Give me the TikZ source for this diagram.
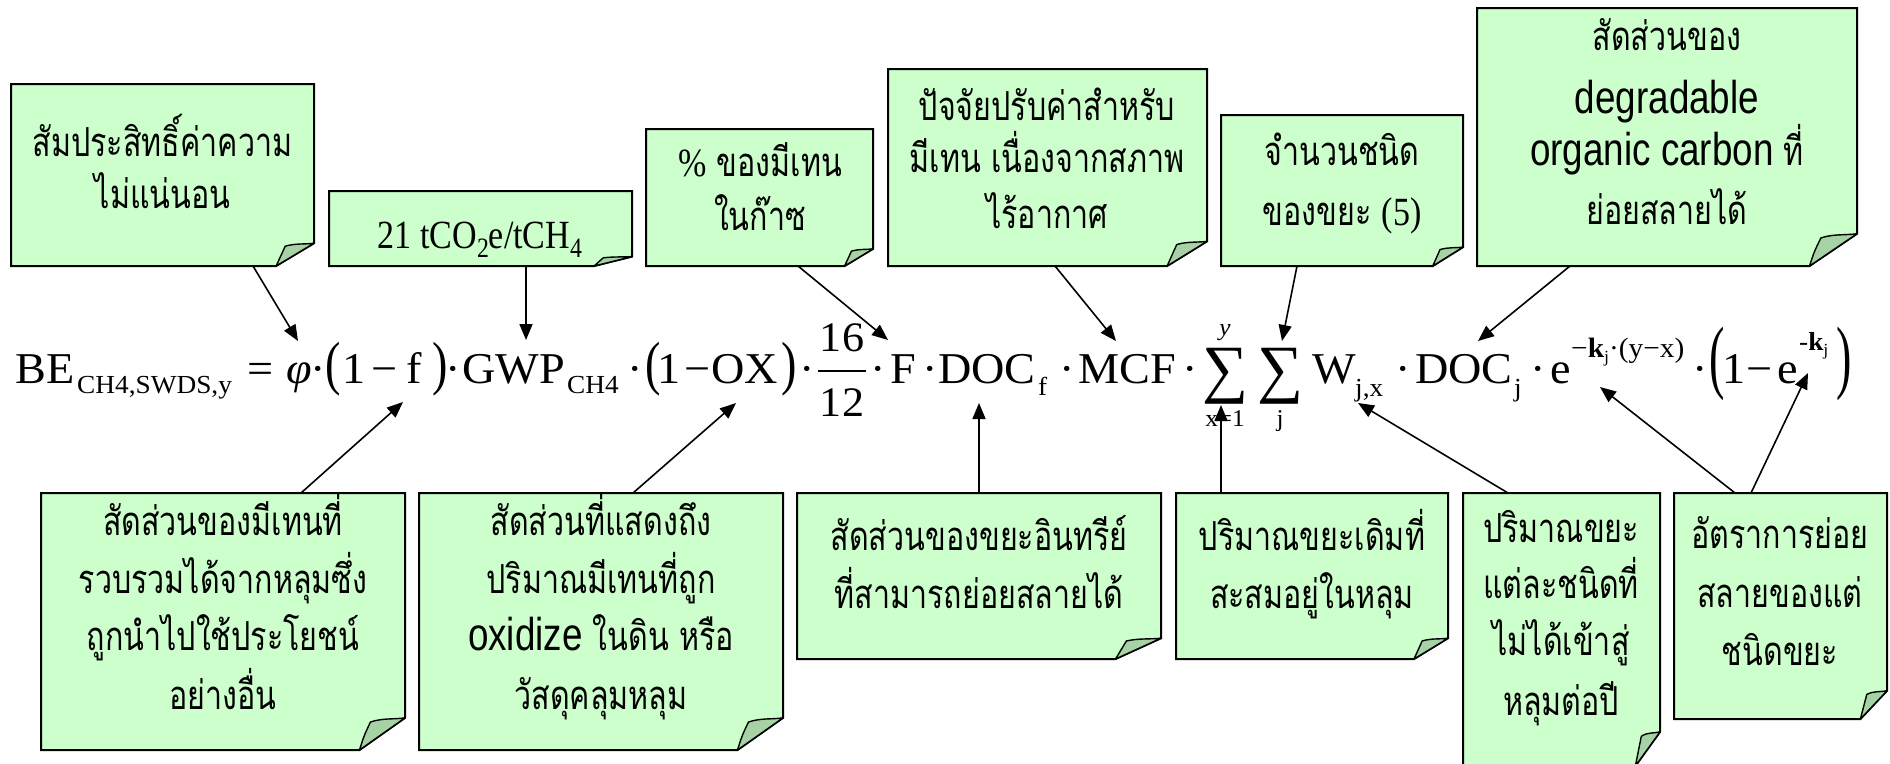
\documentclass[tikz,border=0pt]{standalone}
\usepackage{fontspec}
\setmainfont{Liberation Serif}
\newfontfamily\thaif[Script=Thai,FakeStretch=0.76]{Loma}
\newfontfamily\nserif[FakeStretch=0.85]{Liberation Serif}
\newfontfamily\nsans[FakeStretch=0.8]{Liberation Sans}
\newfontfamily\fmf[FakeStretch=1.05]{Liberation Serif}
\usetikzlibrary{arrows.meta,fit}
\definecolor{notegreen}{HTML}{CCFFCC}
\definecolor{flapgreen}{HTML}{A6D2A6}
\tikzset{
  arr/.style={-{Triangle[length=16pt,width=13pt]}, line width=1.6pt},
  tx/.style={anchor=base, inner sep=0pt, font=\thaif\fontsize{40}{48}\selectfont},
  fm/.style={anchor=base west, inner sep=0pt, font=\fmf\fontsize{44}{50}\selectfont},
  fs/.style={anchor=base west, inner sep=0pt, font=\fmf\fontsize{26}{30}\selectfont},
  fd/.style={anchor=base, inner sep=0pt, font=\fmf\fontsize{44}{50}\selectfont},
  fsm/.style={anchor=base, inner sep=0pt, font=\fmf\fontsize{24}{28}\selectfont},
}
\newcommand\notebox[5]{%
  \pgfmathsetmacro\nbw{0.125*(#4-#2)}%
  \pgfmathsetmacro\nbh{0.125*(#5-#3)}%
  \filldraw[fill=notegreen, draw=black, line width=2pt, line join=miter]
    (#2,#3) -- (#4,#3) -- (#4,{#5-\nbh}) -- ({#4-\nbw},#5) -- (#2,#5) -- cycle;
  \filldraw[fill=flapgreen, draw=black, line width=1.4pt, line join=round]
    ({#4-\nbw},#5) .. controls ({#4-0.9*\nbw},{#5-0.45*\nbh}) .. ({#4-0.76*\nbw},{#5-0.87*\nbh})
    .. controls ({#4-0.5*\nbw},{#5-1.0*\nbh}) and ({#4-0.25*\nbw},{#5-0.95*\nbh}) .. (#4,{#5-\nbh}) -- cycle;
  \node[fit={(#2,#3) (#4,#5)}, inner sep=0pt] (#1) {};
}
\newcommand\subsm[1]{\raisebox{-5pt}{\fontsize{17}{20}\selectfont #1}}
\begin{document}
\begin{tikzpicture}[x=1pt,y=-1pt]
\fill[white] (0,0) rectangle (1890,763);
\useasboundingbox (0,0) rectangle (1890,763);

% ---------- top boxes ----------
\notebox{A}{11}{84}{314}{266}
\node[tx] (A1) at (162.5,156) {สัมประสิทธิ์ค่าความ};
\node[tx] (A2) at (162.5,208) {ไม่แน่นอน};

\notebox{G}{329}{191}{632}{266}
\node[anchor=base, inner sep=0pt, font=\nserif\fontsize{40}{48}\selectfont] (G1) at (480,248)
  {21 tCO\raisebox{-9pt}{\fontsize{28}{30}\selectfont 2}e/tCH\raisebox{-9pt}{\fontsize{28}{30}\selectfont 4}};

\notebox{P}{646}{129}{873}{266}
\node[tx] (P1) at (760,176) {{\nserif\%} ของมีเทน};
\node[tx] (P2) at (760,230) {ในก๊าซ};

\notebox{M}{888}{69}{1207}{266}
\node[tx] (M1) at (1047,120) {ปัจจัยปรับค่าสำหรับ};
\node[tx] (M2) at (1047,172) {มีเทน เนื่องจากสภาพ};
\node[tx] (M3) at (1047,228) {ไร้อากาศ};

\notebox{J}{1221}{115}{1463}{266}
\node[tx] (J1) at (1342,165) {จำนวนชนิด};
\node[tx] (J2) at (1342,225) {ของขยะ {\nserif (5)}};

\notebox{D}{1477}{8}{1857}{266}
\node[tx] (D1) at (1667,50) {สัดส่วนของ};
\node[tx, font=\nsans\fontsize{46}{50}\selectfont] (D2) at (1667,113) {degradable};
\node[tx] (D3) at (1667,165) {{\nsans\fontsize{46}{50}\selectfont organic carbon} ที่};
\node[tx] (D4) at (1667,224) {ย่อยสลายได้};

% ---------- bottom boxes ----------
\notebox{B1}{41}{493}{405}{750}
\node[tx] (B1a) at (223,535) {สัดส่วนของมีเทนที่};
\node[tx] (B1b) at (223,593) {รวบรวมได้จากหลุมซึ่ง};
\node[tx] (B1c) at (223,650) {ถูกนำไปใช้ประโยชน์};
\node[tx] (B1d) at (223,709) {อย่างอื่น};

\notebox{B2}{419}{493}{783}{750}
\node[tx] (B2a) at (601,535) {สัดส่วนที่แสดงถึง};
\node[tx] (B2b) at (601,593) {ปริมาณมีเทนที่ถูก};
\node[tx] (B2c) at (601,650) {{\nsans\fontsize{46}{50}\selectfont oxidize} ในดิน หรือ};
\node[tx] (B2d) at (601,709) {วัสดุคลุมหลุม};

\notebox{B3}{797}{493}{1161}{659}
\node[tx] (B3a) at (979,550) {สัดส่วนของขยะอินทรีย์};
\node[tx] (B3b) at (979,608) {ที่สามารถย่อยสลายได้};

\notebox{B4}{1176}{493}{1448}{659}
\node[tx] (B4a) at (1312,550) {ปริมาณขยะเดิมที่};
\node[tx] (B4b) at (1312,608) {สะสมอยู่ในหลุม};

\notebox{B5}{1463}{493}{1660}{766}
\node[tx] (B5a) at (1561,542) {ปริมาณขยะ};
\node[tx] (B5b) at (1561,598) {แต่ละชนิดที่};
\node[tx] (B5c) at (1561,655) {ไม่ได้เข้าสู่};
\node[tx] (B5d) at (1561,715) {หลุมต่อปี};

\notebox{B6}{1674}{493}{1887}{719}
\node[tx] (B6a) at (1780,548) {อัตราการย่อย};
\node[tx] (B6b) at (1780,607) {สลายของแต่};
\node[tx] (B6c) at (1780,665) {ชนิดขยะ};

% ---------- formula ----------
\node[fm] (be) at (15,383) {BE};
\node[fs] (besub) at (77,393) {CH4,SWDS,y};
\node[fm] (eq) at (247,383) {=};
\node[fm] (phi) at (286,383) {\itshape φ};
\node[fd] (d1) at (318,383) {·};
\node[fm] (lp1) at (325,383) {\scalebox{1}[1.35]{(}};
\node[fm] (one1) at (342,383) {1};
\node[fm] (m1) at (371,383) {−};
\node[fm] (ff) at (406,383) {f};
\node[fm] (rp1) at (432,383) {\scalebox{1}[1.35]{)}};
\node[fd] (d2) at (453,383) {·};
\node[fm] (gwp) at (462,383) {GWP};
\node[fs] (gsub) at (567,393) {CH4};
\node[fd] (d3) at (635,383) {·};
\node[fm] (lp2) at (645,383) {\scalebox{1}[1.35]{(}};
\node[fm] (one2) at (657,383) {1};
\node[fm] (m2) at (684,383) {−};
\node[fm] (ox) at (711,383) {OX};
\node[fm] (rp2) at (781,383) {\scalebox{1}[1.35]{)}};
\node[fd] (d4) at (807,383) {·};
\node[anchor=base, inner sep=0pt, font=\fmf\fontsize{42}{46}\selectfont] (n16) at (842,351) {16};
\node[anchor=base, inner sep=0pt, font=\fmf\fontsize{42}{46}\selectfont] (n12) at (842,416) {12};
\draw[line width=2.5pt] (818,371) -- (866,371);
\node[fd] (d5) at (878,383) {·};
\node[fm] (F) at (890,383) {F};
\node[fd] (d6) at (930,383) {·};
\node[fm] (doc1) at (938,383) {DOC};
\node[fs] (fsub) at (1038,395) {f};
\node[fd] (d7) at (1067,383) {·};
\node[fm] (mcf) at (1078,383) {MCF};
\node[fd] (d8) at (1190,383) {·};
\node[anchor=north west, inner sep=0pt] (sum1) at (1202,348) {\resizebox*{46pt}{56pt}{\fmf ∑}};
\node[fsm, font=\fmf\itshape\fontsize{24}{28}\selectfont] (suy) at (1225,335) {y};
\node[fsm] (sux) at (1225,426) {x=1};
\node[anchor=north west, inner sep=0pt] (sum2) at (1257,348) {\resizebox*{46pt}{56pt}{\fmf ∑}};
\node[fsm] (suj) at (1280,426) {j};
\node[fm] (W) at (1312,383) {W};
\node[fs] (wsub) at (1355,396) {j,x};
\node[fd] (d9) at (1403,383) {·};
\node[fm] (doc2) at (1415,383) {DOC};
\node[fs] (jsub) at (1514,396) {j};
\node[fd] (d10) at (1538,383) {·};
\node[fm] (e1) at (1550,383) {e};
\node[fs, font=\fmf\fontsize{28}{30}\selectfont] (esup) at (1571,357) {−\textbf{k}\subsm{j}·(y−x)};
\node[fd] (d11) at (1700,383) {·};
\node[fm] (lp3) at (1709,383) {\scalebox{1}[1.85]{(}};
\node[fm] (one3) at (1722,383) {1};
\node[fm] (m3) at (1746,383) {−};
\node[fm] (e2) at (1777,383) {e};
\node[fs] (esup2) at (1799,350) {-\textbf{k}\subsm{j}};
\node[fm] (rp3) at (1836,383) {\scalebox{1}[1.85]{)}};

% ---------- connectors ----------
\coordinate (sA) at (253,266);   \coordinate (tA) at (298,341);
\coordinate (sG) at (526,266);   \coordinate (tG) at (526,340);
\coordinate (sP) at (798,266);   \coordinate (tP) at (888,340);
\coordinate (sM) at (1055,266);  \coordinate (tM) at (1116,341);
\coordinate (sJ) at (1297,266);  \coordinate (tJ) at (1282,341);
\coordinate (sD) at (1570,266);  \coordinate (tD) at (1478,341);
\coordinate (s1) at (301,493);   \coordinate (t1) at (403,402);
\coordinate (s2) at (633,493);   \coordinate (t2) at (736,403);
\coordinate (s3) at (979,493);   \coordinate (t3) at (979,403);
\coordinate (s4) at (1221,493);  \coordinate (t4) at (1221,405);
\coordinate (s5) at (1508,493);  \coordinate (t5) at (1358,403);
\coordinate (s6) at (1735,493);  \coordinate (t6) at (1600,387);
\coordinate (s7) at (1751,493);  \coordinate (t7) at (1808,373);
\foreach \s/\t in {sA/tA,sG/tG,sP/tP,sM/tM,sJ/tJ,sD/tD,s1/t1,s2/t2,s3/t3,s4/t4,s5/t5,s6/t6,s7/t7}
  \draw[arr] (\s) -- (\t);
\end{tikzpicture}
\end{document}
